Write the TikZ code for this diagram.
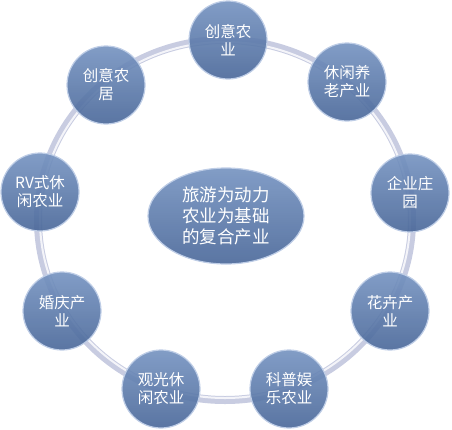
\documentclass[tikz,border=0pt]{standalone}
\usepackage{fontspec}
\setmainfont{Noto Sans CJK SC}
\usetikzlibrary{shapes.geometric}
\definecolor{balltop}{RGB}{116,146,192}
\definecolor{ballbot}{RGB}{72,102,152}
\definecolor{ballrim}{RGB}{190,205,230}
\definecolor{ringc}{RGB}{200,204,225}

\begin{document}
\begin{tikzpicture}[x=1pt,y=-1pt,
ball/.style={circle,minimum size=78pt,inner sep=0pt,align=center,text=white,
  top color=balltop,bottom color=ballbot,draw=ballrim,line width=1.2pt,
  fill opacity=0.9,text opacity=1,font=\fontsize{15.5}{18}\selectfont},
hub/.style={ball,ellipse,minimum width=156pt,minimum height=96pt,
  font=\fontsize{17.5}{21}\selectfont},
ring/.style={ringc,line width=8pt}]
\useasboundingbox (0,0) rectangle (452,429);
% ring
\draw[ring] (225,220) ellipse [x radius=187pt,y radius=180pt];
\draw[white,line width=2pt,opacity=0.8] (225,220) ellipse [x radius=185pt,y radius=178pt];
% hub and spokes
\node[hub] (core) at (226,216) {旅游为动力\\农业为基础\\的复合产业};
\node[ball] (cyny) at (228,40) {创意农\\业};
\node[ball] (xxyl) at (347,82) {休闲养\\老产业};
\node[ball] (qyzy) at (410,193) {企业庄\\园};
\node[ball] (hhcy) at (390,311) {花卉产\\业};
\node[ball] (kpyl) at (289,389) {科普娱\\乐农业};
\node[ball] (ggxx) at (161,389) {观光休\\闲农业};
\node[ball] (hqcy) at (62,311) {婚庆产\\业};
\node[ball] (rvxx) at (40,192) {RV式休\\闲农业};
\node[ball] (cynj) at (106,85) {创意农\\居};
\end{tikzpicture}
\end{document}
